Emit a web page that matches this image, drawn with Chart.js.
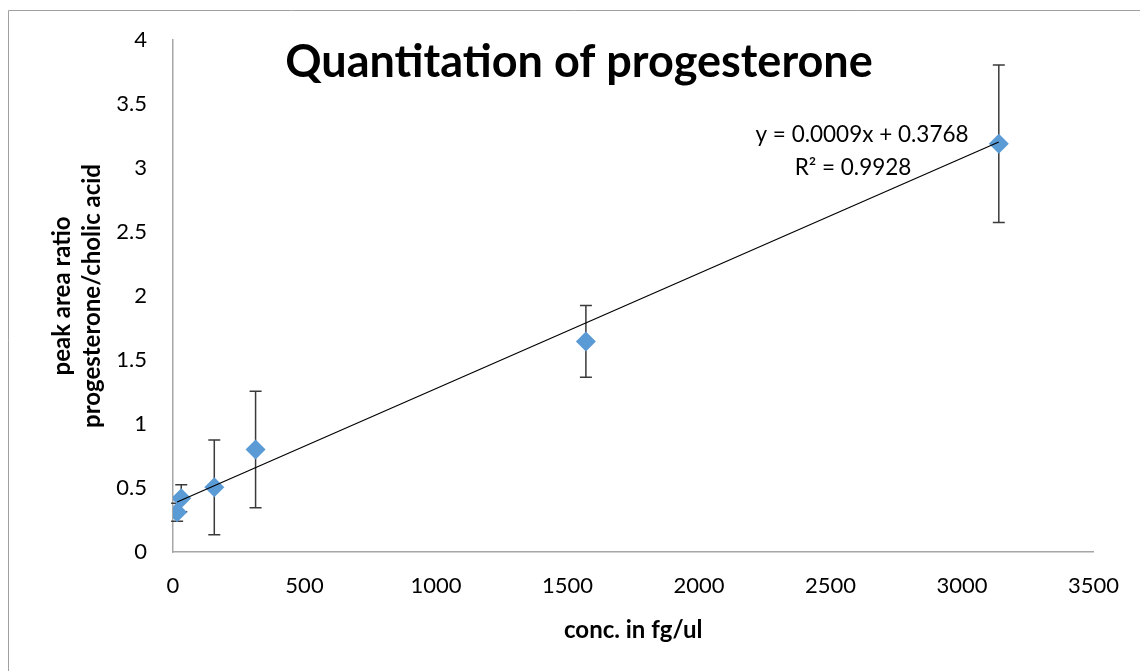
<!DOCTYPE html>
<html>
<head>
<meta charset="utf-8">
<script src="https://cdn.jsdelivr.net/npm/chart.js@4"></script>
<style>
body{margin:0;background:#fff;}
#wrap{width:1140px;height:671px;position:relative;}
</style>
</head>
<body>
<div id="wrap"><canvas id="grafico"></canvas></div>
<script>
// data
const conc = [15.7, 31.4, 157, 314, 1570, 3140];
const ratio = [0.31, 0.42, 0.505, 0.80, 1.645, 3.19];
const errs = [0.07, 0.105, 0.37, 0.455, 0.28, 0.615];
const xTicks = [0, 500, 1000, 1500, 2000, 2500, 3000, 3500];
const yTicks = [0, 0.5, 1, 1.5, 2, 2.5, 3, 3.5, 4];
const slope = 0.0009;
const intercept = 0.3768;
const fitText = ['y = 0.0009x + 0.3768', 'R\u00b2 = 0.9928'];
const titleText = 'Quantitation of progesterone';

const FONT = 'Lato, "Open Sans", sans-serif';

const xMin = Math.min(...conc), xMax = Math.max(...conc);
const trend = [
  {x: xMin, y: slope * xMin + intercept},
  {x: xMax, y: slope * xMax + intercept}
];

// error bars, drawn under the diamonds
const errorBars = {
  id: 'errorBars',
  beforeDatasetsDraw(chart){
    const c = chart.ctx, xs = chart.scales.x, ys = chart.scales.y;
    c.save();
    c.strokeStyle = '#3a3a3a';
    c.lineWidth = 1.5;
    conc.forEach((v, i) => {
      const px = xs.getPixelForValue(v);
      const top = ys.getPixelForValue(ratio[i] + errs[i]);
      const bot = ys.getPixelForValue(ratio[i] - errs[i]);
      c.beginPath();
      c.moveTo(px, top); c.lineTo(px, bot);
      c.moveTo(px - 6, top); c.lineTo(px + 6, top);
      c.moveTo(px - 6, bot); c.lineTo(px + 6, bot);
      c.stroke();
    });
    c.restore();
  }
};

// outer frame, title and trendline label
const extras = {
  id: 'extras',
  afterDraw(chart){
    const c = chart.ctx, a = chart.chartArea;
    c.save();
    c.strokeStyle = '#a0a0a0';
    c.lineWidth = 1;
    c.beginPath();
    c.moveTo(8.5, 671); c.lineTo(8.5, 10.5); c.lineTo(1140, 10.5);
    c.stroke();

    c.fillStyle = '#000';
    c.textAlign = 'center';
    c.textBaseline = 'middle';
    c.font = 'bold 45px ' + FONT;
    c.fillText(titleText, a.left + 406, a.top + 22);

    c.font = '22.5px ' + FONT;
    c.fillText(fitText[0], a.left + 689, a.top + 95);
    c.fillText(fitText[1], a.left + 680, a.top + 128);
    c.restore();
  }
};

new Chart(document.getElementById('grafico'), {
  type: 'scatter',
  data: {
    datasets: [
      {
        label: 'trend',
        type: 'line',
        data: trend,
        borderColor: '#000',
        borderWidth: 1.2,
        pointRadius: 0,
        fill: false,
        order: 0
      },
      {
        label: 'progesterone',
        data: conc.map((v, i) => ({x: v, y: ratio[i]})),
        pointStyle: 'rectRot',
        pointRadius: 10,
        pointHoverRadius: 10,
        backgroundColor: '#5B9BD5',
        borderColor: '#5B9BD5',
        borderWidth: 0,
        order: 1
      }
    ]
  },
  options: {
    responsive: true,
    maintainAspectRatio: false,
    animation: false,
    events: [],
    layout: {padding: {top: 40, right: 43, left: 0, bottom: 0}},
    plugins: {legend: {display: false}, tooltip: {enabled: false}},
    scales: {
      x: {
        type: 'linear',
        min: 0, max: 3500,
        afterBuildTicks: s => { s.ticks = xTicks.map(v => ({value: v})); },
        afterFit: s => { s.height = 119; },
        grid: {display: false, drawTicks: false},
        border: {display: true, color: '#a6a6a6', width: 1.5},
        ticks: {color: '#000', padding: 21, font: {family: FONT, size: 22}, maxRotation: 0,
          callback: v => String(v)},
        title: {display: true, text: 'conc. in fg/ul', color: '#000',
          font: {family: FONT, size: 24, weight: 'bold', lineHeight: 1.25},
          padding: {top: 0, bottom: 26}}
      },
      y: {
        type: 'linear',
        min: 0, max: 4,
        afterBuildTicks: s => { s.ticks = yTicks.map(v => ({value: v})); },
        afterFit: s => { s.width = 173; },
        grid: {display: false, drawTicks: false},
        border: {display: true, color: '#a6a6a6', width: 1.5},
        ticks: {color: '#000', padding: 26, font: {family: FONT, size: 22},
          callback: v => String(v)},
        title: {display: true, text: ['peak area ratio', 'progesterone/cholic acid'], color: '#000',
          font: {family: FONT, size: 24, weight: 'bold', lineHeight: 1.25},
          padding: {top: 47, bottom: 0}}
      }
    }
  },
  plugins: [errorBars, extras]
});
</script>
</body>
</html>
